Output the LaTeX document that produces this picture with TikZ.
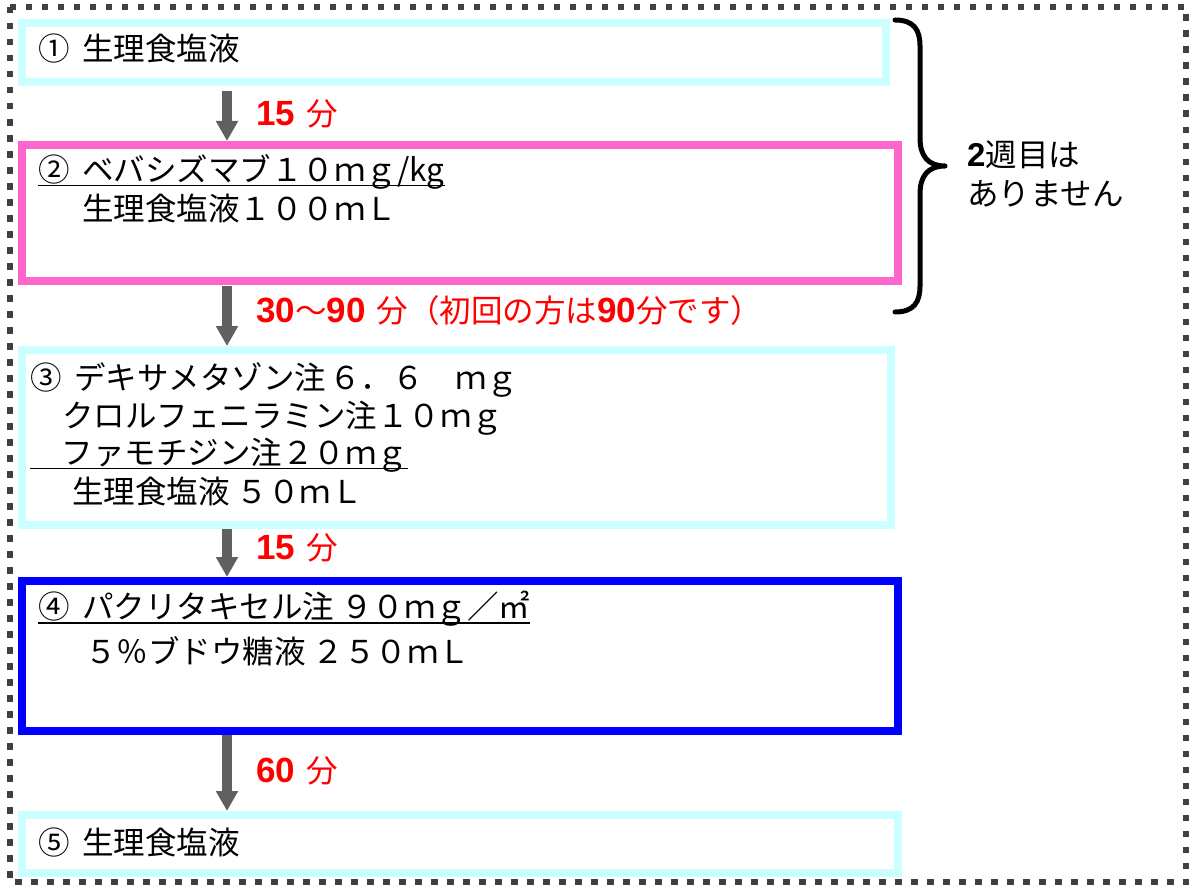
\documentclass[tikz,border=0pt]{standalone}
\usepackage{fontspec}
\setmainfont{Noto Sans CJK JP}
\newfontfamily\numfnt{Liberation Sans}
\usetikzlibrary{arrows.meta}
\definecolor{cyanb}{HTML}{CCFFFF}
\definecolor{pinkb}{HTML}{FF66CC}
\definecolor{blueb}{HTML}{0000FF}
\definecolor{arrg}{HTML}{606060}
\definecolor{dashg}{HTML}{404040}
\definecolor{redt}{HTML}{FF0000}
\newcommand{\bnum}[1]{{\fontsize{35}{35}\numfnt\bfseries #1}}
\newcommand{\csp}{\hspace{12.5pt}}
\begin{document}
\begin{tikzpicture}[x=1pt,y=-1pt,
  box/.style={draw, line width=8pt, anchor=north west, inner sep=0pt, fill=none},
  txt/.style={anchor=base west, inner sep=0pt, font=\fontsize{31.5}{31.5}\selectfont},
  lab/.style={anchor=base west, inner sep=0pt, text=redt, font=\fontsize{31.5}{31.5}\selectfont},
  arr/.style={draw=arrg, line width=10pt, -{Triangle[width=21pt,length=20pt]}},
  outerdash/.style={draw=dashg, line width=6.5pt, dash pattern=on 6.5pt off 9.5pt},
  bracepath/.style={draw=black, line width=5pt, line cap=round, line join=round},
  uline/.style={draw=black, line width=1.6pt},
]
\useasboundingbox (0,0) rectangle (1190,888);
\draw[outerdash] (10,7) rectangle (1186,882);

% boxes
\node[box, draw=cyanb, minimum width=864pt, minimum height=59pt] (b1) at (18,19) {};
\node[box, draw=pinkb, minimum width=876pt, minimum height=136pt] (b2) at (18,141) {};
\node[box, draw=cyanb, minimum width=869pt, minimum height=175pt] (b3) at (18,346) {};
\node[box, draw=blueb, minimum width=876pt, minimum height=150pt] (b4) at (18,577) {};
\node[box, draw=cyanb, minimum width=876pt, minimum height=58pt] (b5) at (18,811) {};

% texts
\node[txt] (t1) at (38,61) {①\csp 生理食塩液};
\node[txt] (t2a) at (38,181) {②\csp ベバシズマブ１０ｍｇ/kg};
\node[txt] (t2b) at (82,220) {生理食塩液１００ｍＬ};
\node[txt] (t3a) at (30,389) {③\csp デキサメタゾン注\hspace{3pt}６．６　ｍｇ};
\node[txt] (t3b) at (62,427) {クロルフェニラミン注１０ｍｇ};
\node[txt] (t3c) at (30,464) {　ファモチジン注２０ｍｇ};
\node[txt] (t3d) at (72,503) {生理食塩液 ５０ｍＬ};
\node[txt] (t4a) at (38,618) {④\csp パクリタキセル注 ９０ｍｇ／㎡};
\node[txt] (t4b) at (85,663) {５％ブドウ糖液 ２５０ｍＬ};
\node[txt] (t5) at (38,854) {⑤\csp 生理食塩液};

% underlines
\draw[uline] ([yshift=-4.5pt]t2a.base west) -- ([yshift=-4.5pt]t2a.base east);
\draw[uline] ([yshift=-4.5pt]t3c.base west) -- ([yshift=-4.5pt]t3c.base east);
\draw[uline] ([yshift=-5pt]t4a.base west) -- ([yshift=-5pt]t4a.base east);

% arrows
\coordinate (ax) at (227,0);
\draw[arr, shorten <=5pt] (b1.south -| ax) -- (b2.north -| ax);
\draw[arr, shorten <=1pt] (b2.south -| ax) -- (b3.north -| ax);
\draw[arr] (b3.south -| ax) -- (b4.north -| ax);
\draw[arr] (b4.south -| ax) -- (b5.north -| ax);

% arrow labels
\node[lab] (l1) at (256,125) {\bnum{15}\hspace{4pt} 分};
\node[lab] (l2) at (256,322) {\bnum{30}～\bnum{90}\hspace{4pt} 分（初回の方は\bnum{90}分です）};
\node[lab] (l3) at (256,559) {\bnum{15}\hspace{4pt} 分};
\node[lab] (l4) at (256,782) {\bnum{60}\hspace{4pt} 分};

% brace
\draw[bracepath] (895,20) .. controls (914,20) and (920,30) .. (920,46)
  -- (920,138) .. controls (920,156) and (928,166) .. (945,166)
  .. controls (928,166) and (920,176) .. (920,194)
  -- (920,286) .. controls (920,302) and (914,312) .. (895,312);
\node[txt] (s1) at (967,166) {{\fontsize{33}{33}\numfnt\bfseries 2}週目は};
\node[txt] (s2) at (967,205) {ありません};
\end{tikzpicture}
\end{document}
